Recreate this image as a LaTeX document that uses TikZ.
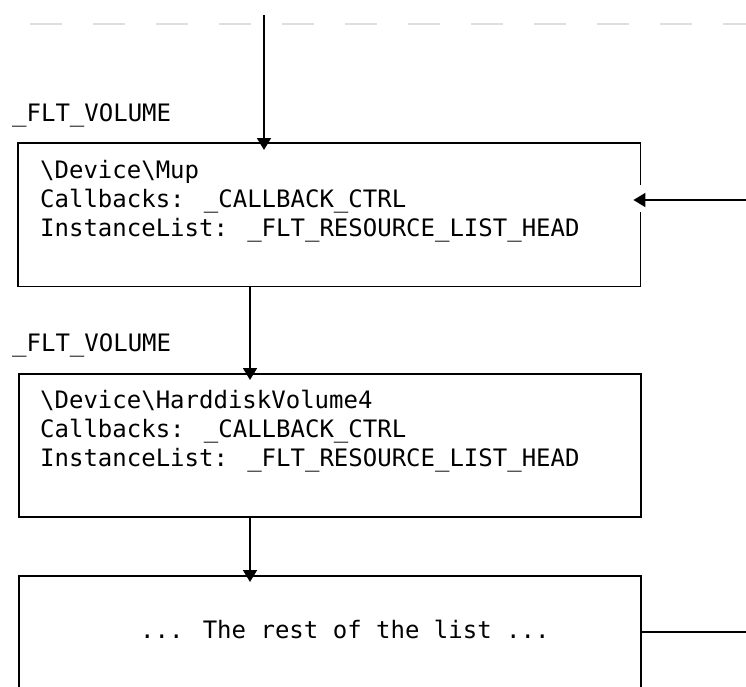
\documentclass[tikz,border=0pt]{standalone}
\usepackage{fontspec}
\newfontfamily\codefont{DejaVu Sans Mono}
\usetikzlibrary{arrows.meta,positioning}
\tikzset{
  box/.style={minimum width=622pt, minimum height=143pt, inner sep=0pt, anchor=north west},
  code/.style={font=\codefont\fontsize{24}{29}\selectfont, inner sep=0pt, anchor=base west},
  wire/.style={line width=1.6pt},
  link/.style={wire, -{Triangle[width=14pt,length=12pt]}},
}
\begin{document}
\begin{tikzpicture}[x=1pt,y=-1pt]
    \clip (0,0) rectangle (746,686);
    %Dashed guide line
    \draw[gray!25, line width=1.5pt, dash pattern=on 32pt off 31pt] (30,24) -- (746,24);
    %Shape: Rectangle (gap on the right side)
    \node[box] (mup) at (18,143) {};
    \draw[wire] ([yshift=-42pt]mup.north east) -- (mup.north east) -- (mup.north west) -- (mup.south west) -- (mup.south east) -- ([yshift=-69pt]mup.north east);
    %Shape: Rectangle
    \node[box, draw, wire] (hdv) at (18,373) {};
    %Shape: Rectangle
    \node[box, draw, wire] (rest) at (18,575) {};
    % Text Node
    \node[code] (mupvol) at ([xshift=-6pt,yshift=22pt]mup.north west) {\_FLT\_VOLUME};
    % Text Node
    \node[code] (mupdev) at ([xshift=22pt,yshift=-35pt]mup.north west) {\textbackslash Device\textbackslash Mup};
    \node[code] (mupcb) at ([yshift=-29pt]mupdev.base west) {Callbacks: \_CALLBACK\_CTRL};
    \node[code] (mupil) at ([yshift=-29pt]mupcb.base west) {InstanceList: \_FLT\_RESOURCE\_LIST\_HEAD};
    % Text Node
    \node[code] (hdvvol) at ([xshift=-6pt,yshift=22pt]hdv.north west) {\_FLT\_VOLUME};
    % Text Node
    \node[code] (hdvdev) at ([xshift=22pt,yshift=-35pt]hdv.north west) {\textbackslash Device\textbackslash HarddiskVolume4};
    \node[code] (hdvcb) at ([yshift=-29pt]hdvdev.base west) {Callbacks: \_CALLBACK\_CTRL};
    \node[code] (hdvil) at ([yshift=-29pt]hdvcb.base west) {InstanceList: \_FLT\_RESOURCE\_LIST\_HEAD};
    % Text Node
    \node[code] (resttxt) at ([xshift=122pt,yshift=-63pt]rest.north west) {... The rest of the list ...};
    %Straight Lines
    \coordinate (topin) at (264,15);
    \draw[link] (topin) -- ([yshift=-7pt]topin |- mup.north);
    \coordinate (mupout) at ([xshift=232pt]mup.south west);
    \draw[link] (mupout) -- ([yshift=-7pt]mupout |- hdv.north);
    \coordinate (hdvout) at ([xshift=232pt]hdv.south west);
    \draw[link] (hdvout) -- ([yshift=-7pt]hdvout |- rest.north);
    \coordinate (extin) at (746,200);
    \draw[link] (extin) -- ([xshift=-7pt]extin -| mup.east);
    \coordinate (extout) at (746,632);
    \draw[wire] (extout -| rest.east) -- (extout);
\end{tikzpicture}
\end{document}
